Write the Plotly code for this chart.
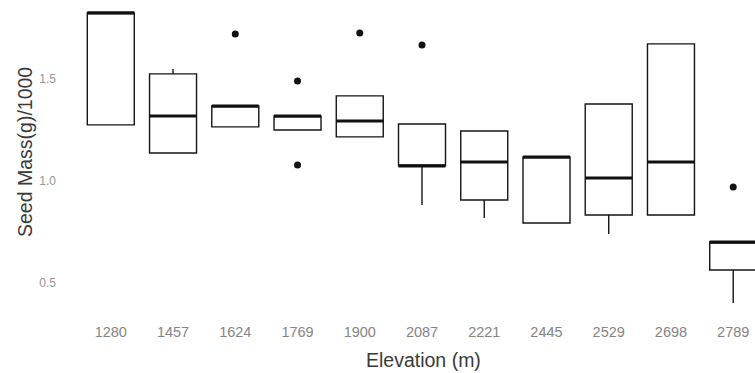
import plotly.graph_objects as go

elevations = ["1280", "1457", "1624", "1769", "1900", "2087", "2221", "2445", "2529", "2698", "2789"]
q1 = [1.275, 1.137, 1.265, 1.250, 1.216, 1.074, 0.907, 0.794, 0.833, 0.833, 0.564]
median = [1.824, 1.319, 1.368, 1.319, 1.294, 1.074, 1.093, 1.118, 1.015, 1.093, 0.701]
q3 = [1.824, 1.525, 1.368, 1.319, 1.417, 1.279, 1.245, 1.118, 1.377, 1.672, 0.701]
lower_whisker = [1.275, 1.137, 1.265, 1.250, 1.216, 0.882, 0.819, 0.794, 0.740, 0.833, 0.402]
upper_whisker = [1.824, 1.549, 1.368, 1.319, 1.417, 1.279, 1.245, 1.118, 1.377, 1.672, 0.701]
outlier_group = [2, 3, 3, 4, 5, 10]
outlier_values = [1.720, 1.490, 1.078, 1.725, 1.667, 0.971]

idx = list(range(len(elevations)))
box_w = 0.755
half = box_w / 2

H = 321  # plot-area height in px

fig = go.Figure()
fig.add_trace(go.Box(
    x=idx, q1=q1, median=median, q3=q3,
    lowerfence=lower_whisker, upperfence=upper_whisker,
    width=box_w,
    fillcolor="rgba(0,0,0,0)", line=dict(color="#151515", width=1.4),
    boxpoints=False, whiskerwidth=0, showlegend=False, hoverinfo="skip",
))
mx, my = [], []
for i, m in zip(idx, median):
    mx += [i - half, i + half, None]
    my += [m, m, None]
fig.add_trace(go.Scatter(x=mx, y=my, mode="lines",
                         line=dict(color="#111", width=3), showlegend=False, hoverinfo="skip"))
fig.add_trace(go.Scatter(x=outlier_group, y=outlier_values, mode="markers",
                         marker=dict(color="#111", size=7), showlegend=False, hoverinfo="skip"))

fig.update_layout(
    width=755, height=373,
    margin=dict(l=61, r=0, t=0, b=373 - H),
    paper_bgcolor="white", plot_bgcolor="white",
    font=dict(family="Liberation Sans, Arial, sans-serif"),
    xaxis=dict(range=[-0.8, 10.35], tickvals=idx, ticktext=elevations,
               showgrid=False, zeroline=False, showline=False, ticks="",
               tickfont=dict(size=14.5, color="#858585")),
    yaxis=dict(range=[0.3137, 1.887], tickvals=[0.5, 1.0, 1.5], ticktext=["0.5", "1.0", "1.5"],
               showgrid=False, zeroline=False, showline=False, ticks="",
               ticklabelstandoff=4,
               tickfont=dict(size=12, color="#959595")),
    annotations=[
        dict(text="Elevation (m)", xref="paper", yref="paper", x=(423 - 61) / 694, y=-(360 - H) / H,
             showarrow=False, xanchor="center", yanchor="middle", font=dict(size=19.5, color="#3a3a3a")),
        dict(text="Seed Mass(g)/1000", xref="paper", yref="paper", x=-(61 - 25) / 694, y=(H - 152) / H,
             showarrow=False, xanchor="center", yanchor="middle", textangle=-90,
             font=dict(size=19.5, color="#3a3a3a")),
    ],
)
fig.write_html("out.html")
